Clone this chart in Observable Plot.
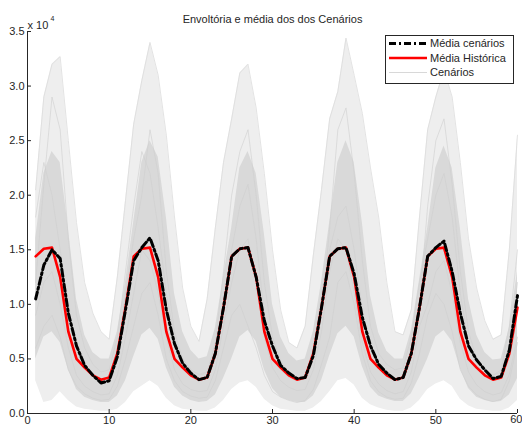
<!DOCTYPE html>
<html>
<head>
<meta charset="utf-8">
<script src="https://cdn.jsdelivr.net/npm/d3@7"></script>
<script src="https://cdn.jsdelivr.net/npm/@observablehq/plot@0.6"></script>
<style>
  body { margin: 0; background: #fff; }
  #chart { position: relative; width: 522px; height: 428px; font-family: "Liberation Sans", Arial, sans-serif; }
  #chart svg { display: block; }
  #legend { position: absolute; left: 385px; top: 35px; }
</style>
</head>
<body>
<div id="chart"></div>
<script>
// Values in units of 10^4 (the axis carries the "x 10^4" multiplier).
const titulo = "Envoltória e média dos dos Cenários";
const legendaItens = ["Média cenários", "Média Histórica", "Cenários"];
const xTicks = [0, 10, 20, 30, 40, 50, 60];
const yTicks = [0, 0.5, 1, 1.5, 2, 2.5, 3, 3.5];

// Historical monthly mean (same seasonal profile each year)
const mediaHistorica = [
  1.44, 1.51, 1.52, 1.25, 0.75, 0.50, 0.42, 0.35, 0.31, 0.33, 0.55, 0.97,
  1.44, 1.51, 1.52, 1.25, 0.75, 0.50, 0.42, 0.35, 0.31, 0.33, 0.55, 0.97,
  1.44, 1.51, 1.52, 1.25, 0.75, 0.50, 0.42, 0.35, 0.31, 0.33, 0.55, 0.97,
  1.44, 1.51, 1.52, 1.25, 0.75, 0.50, 0.42, 0.35, 0.31, 0.33, 0.55, 0.97,
  1.44, 1.51, 1.52, 1.25, 0.75, 0.50, 0.42, 0.35, 0.31, 0.33, 0.55, 0.97
];

// Mean of the generated scenarios
const mediaCenarios = [
  1.05, 1.36, 1.50, 1.42, 0.92, 0.62, 0.44, 0.35, 0.28, 0.30, 0.52, 0.95,
  1.40, 1.52, 1.61, 1.40, 0.95, 0.64, 0.46, 0.37, 0.31, 0.33, 0.55, 0.97,
  1.44, 1.51, 1.52, 1.25, 0.85, 0.62, 0.44, 0.37, 0.32, 0.33, 0.53, 0.97,
  1.44, 1.51, 1.52, 1.28, 0.88, 0.62, 0.45, 0.37, 0.31, 0.33, 0.55, 0.97,
  1.44, 1.52, 1.58, 1.30, 0.92, 0.62, 0.49, 0.40, 0.32, 0.34, 0.58, 1.08
];

// Scenario envelope: maximum and minimum per month
const envMax = [
  2.05, 2.90, 3.20, 3.27, 2.50, 1.75, 1.20, 0.92, 0.75, 0.68, 1.25, 1.95,
  2.65, 3.05, 3.40, 3.10, 2.55, 1.80, 1.15, 0.80, 0.66, 1.05, 1.70, 2.30,
  2.70, 3.12, 3.20, 2.80, 2.20, 1.50, 0.95, 0.65, 0.60, 0.80, 1.45, 2.05,
  2.70, 2.95, 3.44, 3.10, 2.75, 2.25, 1.80, 1.20, 0.75, 0.72, 0.95, 1.80,
  2.60, 2.90, 3.15, 2.90, 2.30, 1.60, 1.15, 0.85, 0.68, 0.72, 1.50, 2.55
];
const envMin = [
  0.30, 0.10, 0.12, 0.20, 0.12, 0.06, 0.04, 0.03, 0.02, 0.02, 0.04, 0.10,
  0.20, 0.25, 0.30, 0.25, 0.14, 0.07, 0.04, 0.03, 0.02, 0.02, 0.05, 0.12,
  0.22, 0.28, 0.30, 0.24, 0.13, 0.07, 0.04, 0.03, 0.02, 0.02, 0.05, 0.11,
  0.20, 0.30, 0.32, 0.26, 0.14, 0.08, 0.05, 0.03, 0.02, 0.02, 0.05, 0.12,
  0.22, 0.27, 0.30, 0.25, 0.13, 0.07, 0.04, 0.03, 0.02, 0.02, 0.05, 0.12
];

// Dense core of the scenario bundle
const faixaSup = [
  1.60, 2.20, 2.40, 2.30, 1.70, 1.05, 0.72, 0.56, 0.50, 0.50, 0.75, 1.20,
  1.75, 2.30, 2.50, 2.35, 1.80, 1.10, 0.75, 0.58, 0.50, 0.52, 0.78, 1.25,
  1.70, 2.25, 2.40, 2.20, 1.65, 1.00, 0.70, 0.55, 0.48, 0.50, 0.75, 1.20,
  1.75, 2.30, 2.50, 2.30, 1.75, 1.08, 0.74, 0.57, 0.50, 0.50, 0.76, 1.22,
  1.70, 2.25, 2.45, 2.25, 1.70, 1.05, 0.72, 0.56, 0.49, 0.50, 0.78, 1.30
];
const faixaInf = [
  0.50, 0.70, 0.75, 0.65, 0.40, 0.22, 0.15, 0.12, 0.10, 0.10, 0.16, 0.30,
  0.52, 0.72, 0.78, 0.68, 0.42, 0.24, 0.16, 0.12, 0.10, 0.11, 0.17, 0.32,
  0.50, 0.70, 0.76, 0.66, 0.40, 0.23, 0.15, 0.12, 0.10, 0.10, 0.16, 0.30,
  0.53, 0.73, 0.80, 0.70, 0.43, 0.24, 0.16, 0.13, 0.11, 0.11, 0.18, 0.33,
  0.50, 0.70, 0.76, 0.66, 0.41, 0.23, 0.15, 0.12, 0.10, 0.11, 0.17, 0.32
];

// A few individual scenarios
const cenarioA = [
  1.20, 2.10, 2.90, 2.60, 1.60, 0.90, 0.60, 0.45, 0.38, 0.40, 0.70, 1.30,
  1.90, 2.40, 2.20, 1.70, 1.10, 0.70, 0.50, 0.40, 0.35, 0.37, 0.60, 1.00,
  1.50, 1.90, 2.10, 1.60, 0.90, 0.55, 0.40, 0.33, 0.30, 0.32, 0.50, 0.90,
  1.70, 2.60, 2.80, 2.20, 1.40, 0.80, 0.55, 0.45, 0.40, 0.42, 0.70, 1.20,
  1.60, 2.00, 2.20, 1.80, 1.10, 0.65, 0.45, 0.38, 0.35, 0.40, 0.80, 1.50
];
const cenarioB = [
  0.60, 0.80, 0.90, 0.70, 0.40, 0.25, 0.18, 0.14, 0.12, 0.13, 0.25, 0.50,
  0.80, 1.10, 1.20, 0.90, 0.50, 0.30, 0.20, 0.16, 0.14, 0.15, 0.30, 0.60,
  0.90, 1.00, 0.80, 0.60, 0.35, 0.20, 0.15, 0.12, 0.10, 0.12, 0.22, 0.45,
  0.70, 1.20, 1.30, 1.00, 0.55, 0.30, 0.20, 0.15, 0.13, 0.14, 0.28, 0.55,
  0.90, 1.10, 1.00, 0.75, 0.40, 0.25, 0.17, 0.13, 0.11, 0.13, 0.30, 0.65
];
const cenarioC = [
  1.80, 2.30, 2.00, 1.50, 1.00, 0.60, 0.42, 0.35, 0.30, 0.33, 0.55, 1.10,
  1.60, 2.00, 2.60, 2.20, 1.30, 0.75, 0.50, 0.40, 0.36, 0.38, 0.65, 1.30,
  2.00, 2.40, 2.60, 2.00, 1.20, 0.70, 0.48, 0.38, 0.33, 0.35, 0.60, 1.10,
  1.50, 1.80, 1.90, 1.50, 0.95, 0.60, 0.42, 0.35, 0.30, 0.32, 0.55, 1.00,
  1.90, 2.50, 2.70, 2.10, 1.30, 0.75, 0.50, 0.40, 0.35, 0.38, 0.62, 1.20
];
const cenarioD = [
  0.90, 1.20, 1.30, 1.00, 0.60, 0.35, 0.25, 0.20, 0.17, 0.18, 0.35, 0.70,
  1.10, 1.50, 1.40, 1.10, 0.70, 0.40, 0.27, 0.22, 0.20, 0.21, 0.40, 0.80,
  1.20, 1.50, 1.60, 1.20, 0.70, 0.42, 0.30, 0.24, 0.21, 0.22, 0.40, 0.75,
  1.30, 1.60, 1.50, 1.10, 0.65, 0.38, 0.27, 0.21, 0.18, 0.20, 0.38, 0.80,
  1.00, 1.30, 1.40, 1.10, 0.65, 0.38, 0.26, 0.20, 0.17, 0.19, 0.36, 0.70
];

const meses = d3.range(1, 61);
const linhas = meses.map((m, i) => ({
  m,
  hist: mediaHistorica[i],
  cen: mediaCenarios[i],
  lo: envMin[i],
  hi: envMax[i],
  inf: faixaInf[i],
  sup: faixaSup[i]
}));
const cenarios = [cenarioA, cenarioB, cenarioC, cenarioD]
  .flatMap((s, k) => s.map((v, i) => ({k, m: meses[i], v})));

const W = 522, H = 428, ML = 27, MR = 5, MT = 31, MB = 15;
const ink = "#262626";
const traco = "7,3,2,3";
const xUltimo = xTicks[xTicks.length - 1];

const plot = Plot.plot({
  width: W, height: H,
  marginLeft: ML, marginRight: MR, marginTop: MT, marginBottom: MB,
  style: {fontFamily: '"Liberation Sans", Arial, sans-serif', fontSize: "11px", color: ink, background: "#fff", overflow: "visible"},
  x: {domain: [0, 60], label: null},
  y: {domain: [0, 3.5], label: null},
  marks: [
    Plot.areaY(linhas, {x: "m", y1: "lo", y2: "hi", fill: "#eeeeee"}),
    Plot.areaY(linhas, {x: "m", y1: "inf", y2: "sup", fill: "#d9d9d9"}),
    Plot.line(linhas, {x: "m", y: "hi", stroke: "#dcdcdc", strokeWidth: 0.8}),
    Plot.line(cenarios, {x: "m", y: "v", z: "k", stroke: "#cfcfcf", strokeWidth: 0.6}),
    Plot.line(linhas, {x: "m", y: "hist", stroke: "#ff0000", strokeWidth: 2.6}),
    Plot.line(linhas, {x: "m", y: "cen", stroke: "#000", strokeWidth: 3, strokeDasharray: traco}),
    Plot.ruleX([0], {stroke: ink}),
    Plot.ruleY([0], {stroke: ink}),
    Plot.tickY(yTicks, {y: d => d, insetRight: W - ML - MR - 4, stroke: ink}),
    Plot.tickX(xTicks, {x: d => d, insetTop: H - MT - MB - 4, stroke: ink}),
    Plot.axisY(yTicks, {tickSize: 0, tickPadding: 3, fontSize: 11, label: null}),
    // last x label kept inside the right edge
    Plot.axisX(xTicks.slice(0, -1), {tickSize: 0, tickPadding: 3, fontSize: 11, label: null}),
    Plot.text([xUltimo], {x: d => d, frameAnchor: "bottom", dy: 9, dx: 5, textAnchor: "end", fontSize: 11, fill: ink}),
    Plot.text([titulo], {frameAnchor: "top", dy: -16, fontSize: 11, fill: ink}),
    Plot.text(["x 10"], {frameAnchor: "top-left", dy: -10, textAnchor: "start", fontSize: 11, fill: ink}),
    Plot.text(["4"], {frameAnchor: "top-left", dy: -15, dx: 23, textAnchor: "start", fontSize: 7, fill: ink})
  ]
});
document.getElementById("chart").appendChild(plot);

// Legend box drawn over the plot's upper-right corner
const estilos = [
  {stroke: "#000", width: 3, dash: traco},
  {stroke: "#ff0000", width: 2.6, dash: null},
  {stroke: "#d8d8d8", width: 1, dash: null}
];
const leg = d3.create("svg")
  .attr("id", "legend")
  .attr("width", 129).attr("height", 49)
  .style("font-family", '"Liberation Sans", Arial, sans-serif')
  .style("font-size", "11px");
leg.append("rect").attr("x", 0.5).attr("y", 0.5).attr("width", 128).attr("height", 48)
  .attr("fill", "#fff").attr("stroke", ink);
legendaItens.forEach((t, i) => {
  const y = 8.5 + i * 14.5;
  const s = estilos[i];
  leg.append("line").attr("x1", 4).attr("x2", 42).attr("y1", y).attr("y2", y)
    .attr("stroke", s.stroke).attr("stroke-width", s.width)
    .attr("stroke-dasharray", s.dash);
  leg.append("text").attr("x", 45).attr("y", y).attr("dy", "0.35em")
    .attr("fill", ink).text(t);
});
document.getElementById("chart").appendChild(leg.node());
</script>
</body>
</html>
